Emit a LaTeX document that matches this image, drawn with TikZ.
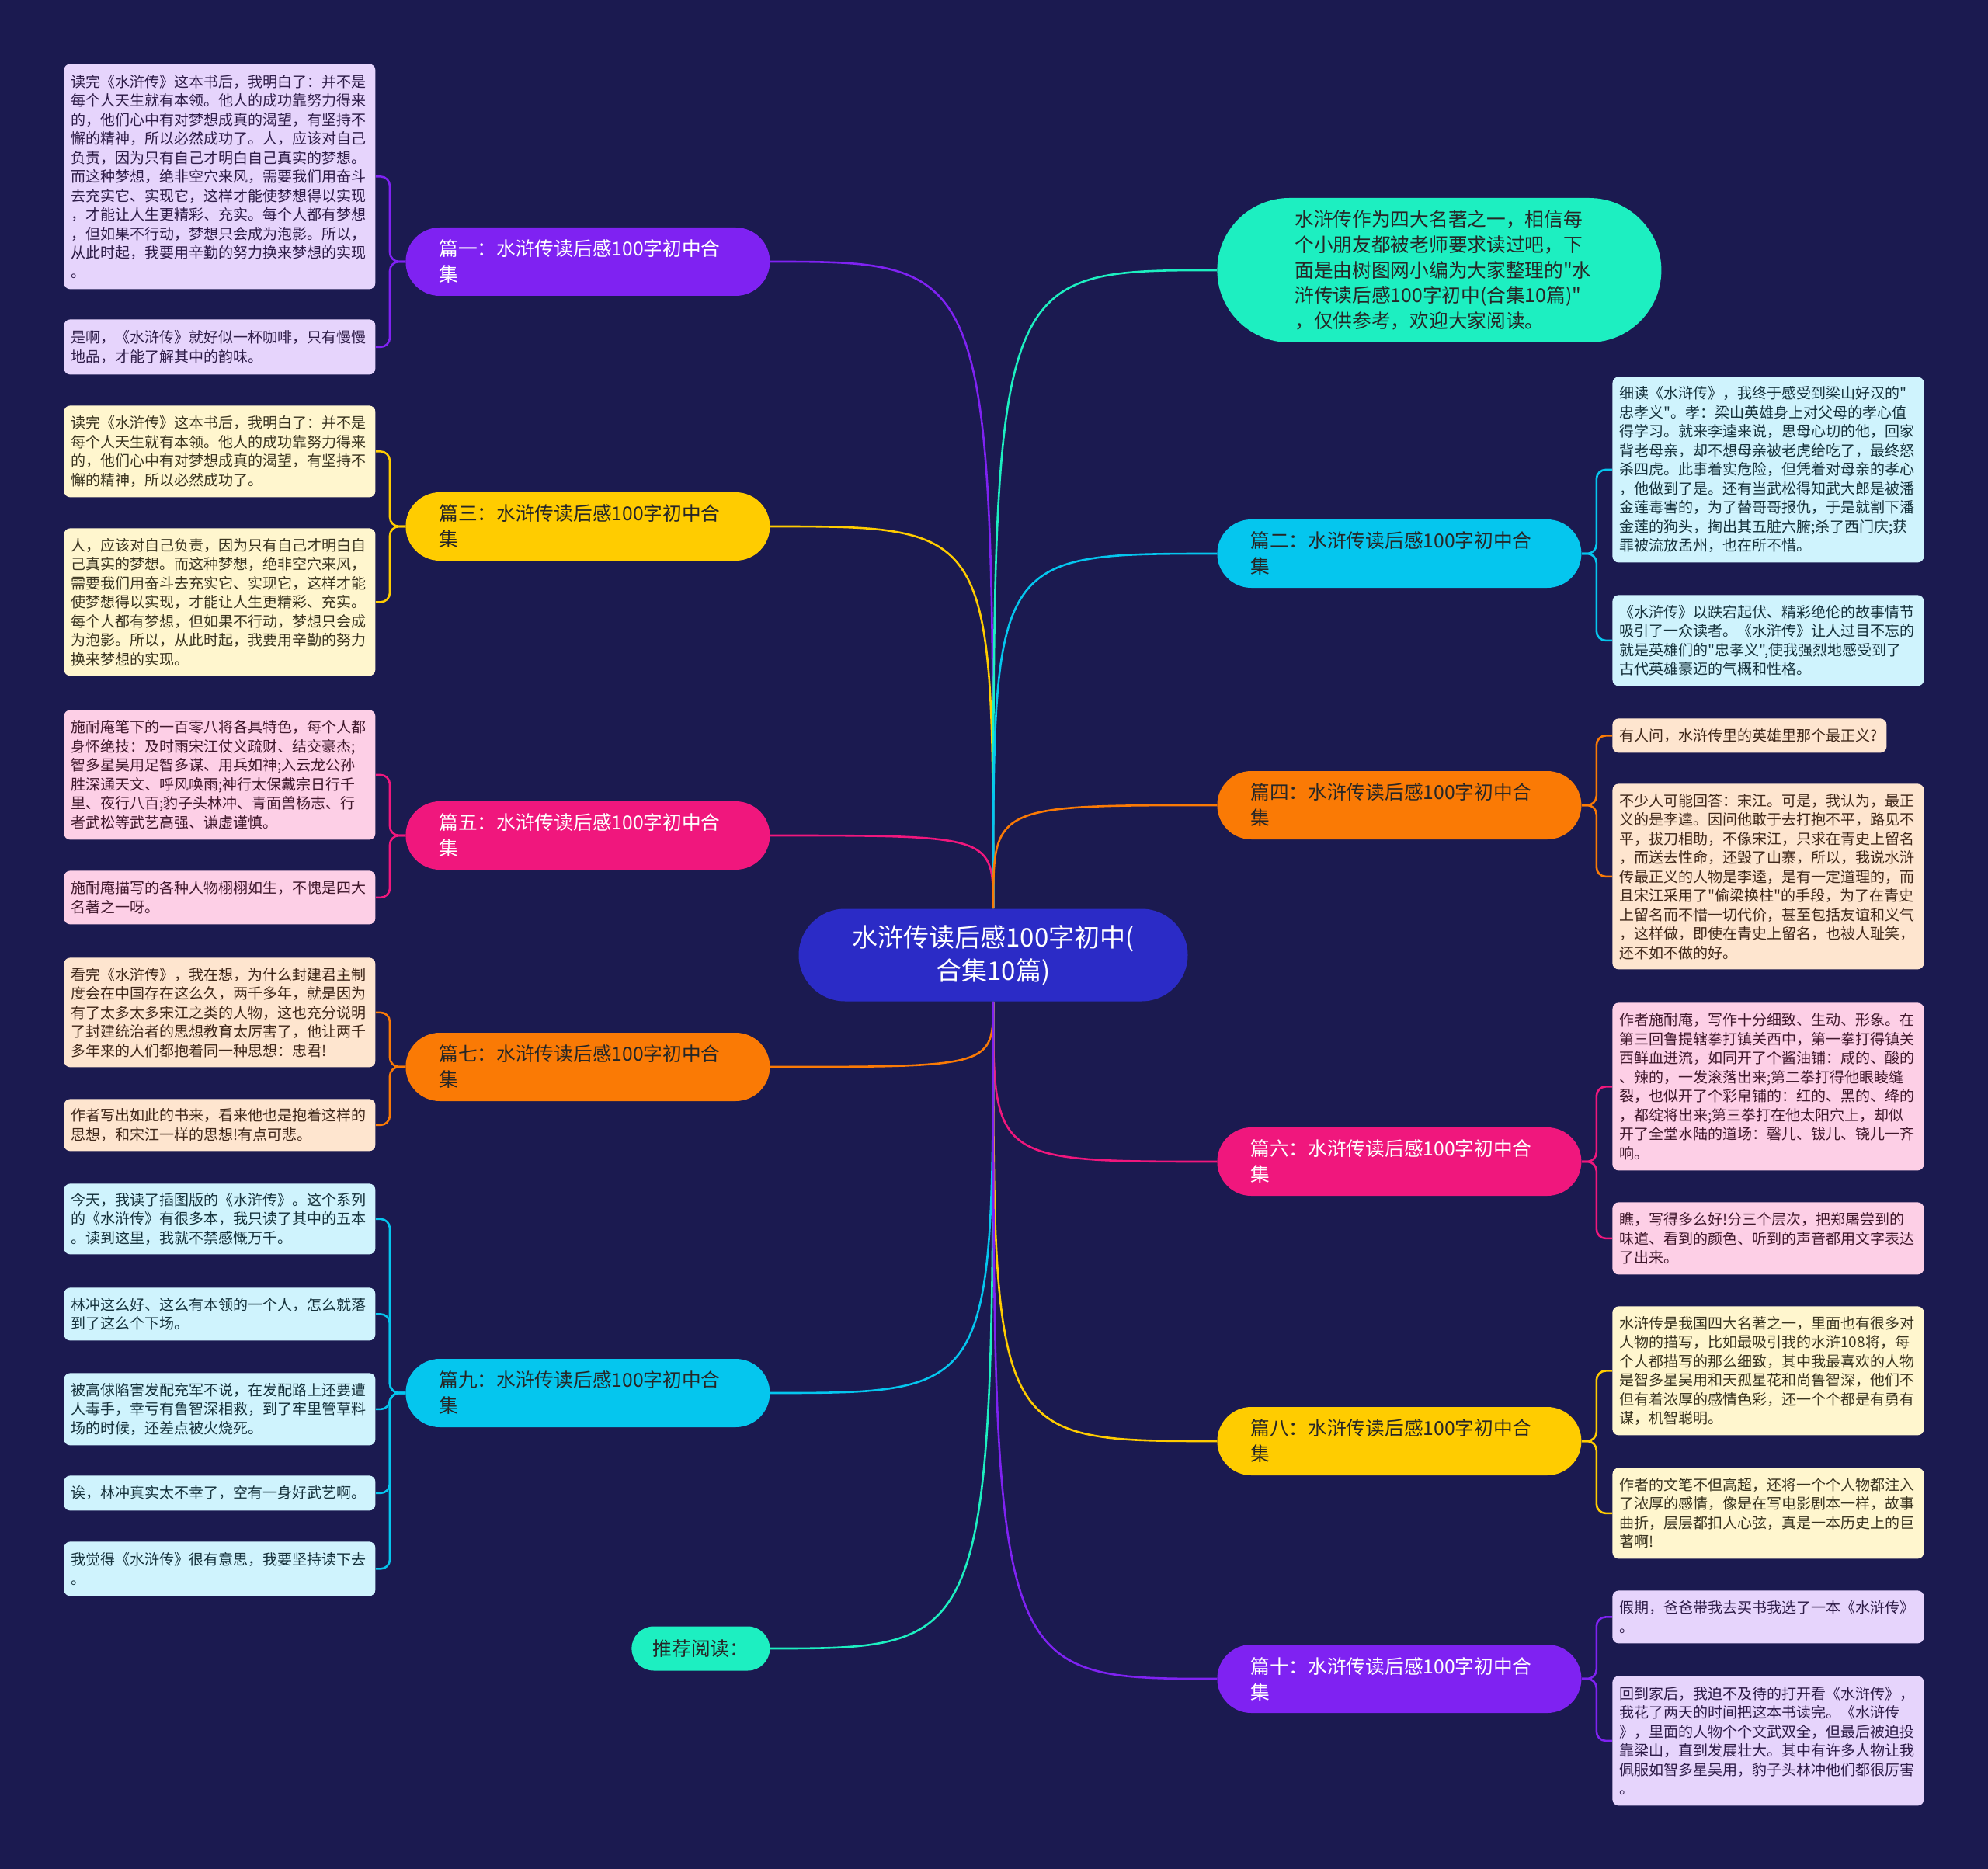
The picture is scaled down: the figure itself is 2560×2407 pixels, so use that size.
\documentclass[tikz,border=0pt]{standalone}
\usepackage{fontspec}
\setmainfont{Noto Sans CJK SC}[Ligatures=TeXOff]
\usetikzlibrary{calc}
\definecolor{bgc}{HTML}{1B1A50}
\definecolor{cPur}{HTML}{7F22F2}
\definecolor{cYel}{HTML}{FFCC00}
\definecolor{cPnk}{HTML}{F0177D}
\definecolor{cOrg}{HTML}{FA7A05}
\definecolor{cCya}{HTML}{05C6EE}
\definecolor{cMnt}{HTML}{1DEFC1}
\definecolor{cCen}{HTML}{2B2BC6}
\definecolor{lPur}{HTML}{E6D4FC}
\definecolor{lYel}{HTML}{FFF6CE}
\definecolor{lPnk}{HTML}{FDCFE6}
\definecolor{lOrg}{HTML}{FEE5CF}
\definecolor{lCya}{HTML}{CFF3FD}
\definecolor{tPur}{HTML}{2E1C48}
\definecolor{tYel}{HTML}{3A3420}
\definecolor{tPnk}{HTML}{40182C}
\definecolor{tOrg}{HTML}{40281A}
\definecolor{tCya}{HTML}{16323C}
\definecolor{tDark}{HTML}{262626}
\pgfdeclarelayer{background}
\pgfdeclarelayer{edges}
\pgfsetlayers{background,edges,main}
\begin{document}
\begin{tikzpicture}[x=0.5pt,y=-0.5pt,
 leaf/.style={rounded corners=4pt, anchor=north west, text width=191.5pt, inner xsep=4.5pt, inner ysep=0pt, align=left, font=\fontsize{9.5pt}{12.25pt}\selectfont},
 branch/.style={rounded corners=22pt, anchor=west, minimum height=44pt, text width=191.5pt, inner xsep=21.5pt, inner ysep=0pt, align=left, font=\fontsize{12.35pt}{16.5pt}\selectfont},
 conn/.style={line width=1.3pt},
 brk/.style={line width=1.3pt, rounded corners=6pt},
]
\useasboundingbox (0,0) rectangle (2560,2407);
\begin{pgfonlayer}{background}
\fill[bgc] (0,0) rectangle (2560,2407);
\end{pgfonlayer}

% center
\node[fill=cCen, text=white, rounded corners=29.75pt, minimum width=250.5pt, minimum height=59.5pt, inner sep=0pt, align=center, font=\fontsize{16.5pt}{21.5pt}\selectfont] (C) at (1279,1230) {水浒传读后感100字初中(\\合集10篇)};

% intro
\node[fill=cMnt, text=tDark, rounded corners=46.5pt, anchor=west, minimum height=93pt, text width=186pt, inner xsep=50pt, inner ysep=0pt, align=left, font=\fontsize{12.35pt}{16.35pt}\selectfont] (I) at (1567,348) {水浒传作为四大名著之一，相信每\\个小朋友都被老师要求读过吧，下\\面是由树图网小编为大家整理的"水\\浒传读后感100字初中(合集10篇)"\\，仅供参考，欢迎大家阅读。};

% left branches
\node[branch, fill=cPur, text=white] (B1) at (522,337) {篇一：水浒传读后感100字初中合\\集};
\node[branch, fill=cYel, text=tDark] (B3) at (522,678) {篇三：水浒传读后感100字初中合\\集};
\node[branch, fill=cPnk, text=white] (B5) at (522,1076) {篇五：水浒传读后感100字初中合\\集};
\node[branch, fill=cOrg, text=tDark] (B7) at (522,1374) {篇七：水浒传读后感100字初中合\\集};
\node[branch, fill=cCya, text=tDark] (B9) at (522,1794) {篇九：水浒传读后感100字初中合\\集};
\node[fill=cMnt, text=tDark, rounded corners=14.25pt, anchor=west, minimum width=89pt, minimum height=28.5pt, inner sep=0pt, font=\fontsize{12.35pt}{16.5pt}\selectfont] (REC) at (813,2123) {推荐阅读：};

% right branches
\node[branch, fill=cCya, text=tDark] (B2) at (1567,713) {篇二：水浒传读后感100字初中合\\集};
\node[branch, fill=cOrg, text=tDark] (B4) at (1567,1037) {篇四：水浒传读后感100字初中合\\集};
\node[branch, fill=cPnk, text=white] (B6) at (1567,1496) {篇六：水浒传读后感100字初中合\\集};
\node[branch, fill=cYel, text=tDark] (B8) at (1567,1856) {篇八：水浒传读后感100字初中合\\集};
\node[branch, fill=cPur, text=white] (B10) at (1567,2162) {篇十：水浒传读后感100字初中合\\集};

% left leaves
\node[leaf, fill=lPur, text=tPur, minimum height=145pt] (L1a) at (82,82) {读完《水浒传》这本书后，我明白了：并不是\\每个人天生就有本领。他人的成功靠努力得来\\的，他们心中有对梦想成真的渴望，有坚持不\\懈的精神，所以必然成功了。人，应该对自己\\负责，因为只有自己才明白自己真实的梦想。\\而这种梦想，绝非空穴来风，需要我们用奋斗\\去充实它、实现它，这样才能使梦想得以实现\\，才能让人生更精彩、充实。每个人都有梦想\\，但如果不行动，梦想只会成为泡影。所以，\\从此时起，我要用辛勤的努力换来梦想的实现\\。};
\node[leaf, fill=lPur, text=tPur, minimum height=35.5pt] (L1b) at (82,411) {是啊，《水浒传》就好似一杯咖啡，只有慢慢\\地品，才能了解其中的韵味。};
\node[leaf, fill=lYel, text=tYel, minimum height=59pt] (L3a) at (82,522) {读完《水浒传》这本书后，我明白了：并不是\\每个人天生就有本领。他人的成功靠努力得来\\的，他们心中有对梦想成真的渴望，有坚持不\\懈的精神，所以必然成功了。};
\node[leaf, fill=lYel, text=tYel, minimum height=95pt] (L3b) at (82,680) {人，应该对自己负责，因为只有自己才明白自\\己真实的梦想。而这种梦想，绝非空穴来风，\\需要我们用奋斗去充实它、实现它，这样才能\\使梦想得以实现，才能让人生更精彩、充实。\\每个人都有梦想，但如果不行动，梦想只会成\\为泡影。所以，从此时起，我要用辛勤的努力\\换来梦想的实现。};
\node[leaf, fill=lPnk, text=tPnk, minimum height=83.5pt] (L5a) at (82,914) {施耐庵笔下的一百零八将各具特色，每个人都\\身怀绝技：及时雨宋江仗义疏财、结交豪杰;\\智多星吴用足智多谋、用兵如神;入云龙公孙\\胜深通天文、呼风唤雨;神行太保戴宗日行千\\里、夜行八百;豹子头林冲、青面兽杨志、行\\者武松等武艺高强、谦虚谨慎。};
\node[leaf, fill=lPnk, text=tPnk, minimum height=34.5pt] (L5b) at (82,1121) {施耐庵描写的各种人物栩栩如生，不愧是四大\\名著之一呀。};
\node[leaf, fill=lOrg, text=tOrg, minimum height=70.5pt] (L7a) at (82,1233) {看完《水浒传》，我在想，为什么封建君主制\\度会在中国存在这么久，两千多年，就是因为\\有了太多太多宋江之类的人物，这也充分说明\\了封建统治者的思想教育太厉害了，他让两千\\多年来的人们都抱着同一种思想：忠君!};
\node[leaf, fill=lOrg, text=tOrg, minimum height=33.5pt] (L7b) at (82,1415) {作者写出如此的书来，看来他也是抱着这样的\\思想，和宋江一样的思想!有点可悲。};
\node[leaf, fill=lCya, text=tCya, minimum height=45.5pt] (L9a) at (82,1524) {今天，我读了插图版的《水浒传》。这个系列\\的《水浒传》有很多本，我只读了其中的五本\\。读到这里，我就不禁感慨万千。};
\node[leaf, fill=lCya, text=tCya, minimum height=34pt] (L9b) at (82,1658) {林冲这么好、这么有本领的一个人，怎么就落\\到了这么个下场。};
\node[leaf, fill=lCya, text=tCya, minimum height=46.5pt] (L9c) at (82,1768) {被高俅陷害发配充军不说，在发配路上还要遭\\人毒手，幸亏有鲁智深相救，到了牢里管草料\\场的时候，还差点被火烧死。};
\node[leaf, fill=lCya, text=tCya, minimum height=22.5pt] (L9d) at (82,1900) {诶，林冲真实太不幸了，空有一身好武艺啊。};
\node[leaf, fill=lCya, text=tCya, minimum height=35pt] (L9e) at (82,1985) {我觉得《水浒传》很有意思，我要坚持读下去\\。};

% right leaves
\node[leaf, fill=lCya, text=tCya, minimum height=119.5pt] (R2a) at (2076,485) {细读《水浒传》，我终于感受到梁山好汉的"\\忠孝义"。孝：梁山英雄身上对父母的孝心值\\得学习。就来李逵来说，思母心切的他，回家\\背老母亲，却不想母亲被老虎给吃了，最终怒\\杀四虎。此事着实危险，但凭着对母亲的孝心\\，他做到了是。还有当武松得知武大郎是被潘\\金莲毒害的，为了替哥哥报仇，于是就割下潘\\金莲的狗头，掏出其五脏六腑;杀了西门庆;获\\罪被流放孟州，也在所不惜。};
\node[leaf, fill=lCya, text=tCya, minimum height=58.5pt] (R2b) at (2076,766) {《水浒传》以跌宕起伏、精彩绝伦的故事情节\\吸引了一众读者。《水浒传》让人过目不忘的\\就是英雄们的"忠孝义",使我强烈地感受到了\\古代英雄豪迈的气概和性格。};
\node[leaf, fill=lOrg, text=tOrg, minimum height=22pt, text width=167.5pt] (R4a) at (2076,925) {有人问，水浒传里的英雄里那个最正义?};
\node[leaf, fill=lOrg, text=tOrg, minimum height=119.5pt] (R4b) at (2076,1009) {不少人可能回答：宋江。可是，我认为，最正\\义的是李逵。因问他敢于去打抱不平，路见不\\平，拔刀相助，不像宋江，只求在青史上留名\\，而送去性命，还毁了山寨，所以，我说水浒\\传最正义的人物是李逵，是有一定道理的，而\\且宋江采用了"偷梁换柱"的手段，为了在青史\\上留名而不惜一切代价，甚至包括友谊和义气\\，这样做，即使在青史上留名，也被人耻笑，\\还不如不做的好。};
\node[leaf, fill=lPnk, text=tPnk, minimum height=108pt] (R6a) at (2076,1291) {作者施耐庵，写作十分细致、生动、形象。在\\第三回鲁提辖拳打镇关西中，第一拳打得镇关\\西鲜血迸流，如同开了个酱油铺：咸的、酸的\\、辣的，一发滚落出来;第二拳打得他眼睖缝\\裂，也似开了个彩帛铺的：红的、黑的、绛的\\，都绽将出来;第三拳打在他太阳穴上，却似\\开了全堂水陆的道场：磬儿、钹儿、铙儿一齐\\响。};
\node[leaf, fill=lPnk, text=tPnk, minimum height=46.5pt] (R6b) at (2076,1548) {瞧，写得多么好!分三个层次，把郑屠尝到的\\味道、看到的颜色、听到的声音都用文字表达\\了出来。};
\node[leaf, fill=lYel, text=tYel, minimum height=83pt] (R8a) at (2076,1682) {水浒传是我国四大名著之一，里面也有很多对\\人物的描写，比如最吸引我的水浒108将，每\\个人都描写的那么细致，其中我最喜欢的人物\\是智多星吴用和天孤星花和尚鲁智深，他们不\\但有着浓厚的感情色彩，还一个个都是有勇有\\谋，机智聪明。};
\node[leaf, fill=lYel, text=tYel, minimum height=58.5pt] (R8b) at (2076,1890) {作者的文笔不但高超，还将一个个人物都注入\\了浓厚的感情，像是在写电影剧本一样，故事\\曲折，层层都扣人心弦，真是一本历史上的巨\\著啊!};
\node[leaf, fill=lPur, text=tPur, minimum height=34pt] (R10a) at (2076,2048) {假期，爸爸带我去买书我选了一本《水浒传》\\。};
\node[leaf, fill=lPur, text=tPur, minimum height=83.5pt] (R10b) at (2076,2158) {回到家后，我迫不及待的打开看《水浒传》，\\我花了两天的时间把这本书读完。《水浒传\\》，里面的人物个个文武双全，但最后被迫投\\靠梁山，直到发展壮大。其中有许多人物让我\\佩服如智多星吴用，豹子头林冲他们都很厉害\\。};

\begin{pgfonlayer}{edges}
% center to branches (upper)
\draw[conn, cPur] (C.north) .. controls (C.north |- B1.east) and (C.north |- B1.east) .. (B1.east);
\draw[conn, cYel] (C.north) .. controls (C.north |- B3.east) and (C.north |- B3.east) .. (B3.east);
\draw[conn, cPnk] (C.north) .. controls (C.north |- B5.east) and (C.north |- B5.east) .. (B5.east);
\draw[conn, cMnt] (C.north) .. controls (C.north |- I.west) and (C.north |- I.west) .. (I.west);
\draw[conn, cCya] (C.north) .. controls (C.north |- B2.west) and (C.north |- B2.west) .. (B2.west);
\draw[conn, cOrg] (C.north) .. controls (C.north |- B4.west) and (C.north |- B4.west) .. (B4.west);
% lower
\draw[conn, cOrg] (C.south) .. controls (C.south |- B7.east) and (C.south |- B7.east) .. (B7.east);
\draw[conn, cCya] (C.south) .. controls (C.south |- B9.east) and (C.south |- B9.east) .. (B9.east);
\draw[conn, cMnt] (C.south) .. controls (C.south |- REC.east) and (C.south |- REC.east) .. (REC.east);
\draw[conn, cPnk] (C.south) .. controls (C.south |- B6.west) and (C.south |- B6.west) .. (B6.west);
\draw[conn, cYel] (C.south) .. controls (C.south |- B8.west) and (C.south |- B8.west) .. (B8.west);
\draw[conn, cPur] (C.south) .. controls (C.south |- B10.west) and (C.south |- B10.west) .. (B10.west);
% left brackets
\draw[brk, cPur] (B1.west) -- ++(-20,0) |- (L1a.east);
\draw[brk, cPur] (B1.west) -- ++(-20,0) |- (L1b.east);
\draw[brk, cYel] (B3.west) -- ++(-20,0) |- (L3a.east);
\draw[brk, cYel] (B3.west) -- ++(-20,0) |- (L3b.east);
\draw[brk, cPnk] (B5.west) -- ++(-20,0) |- (L5a.east);
\draw[brk, cPnk] (B5.west) -- ++(-20,0) |- (L5b.east);
\draw[brk, cOrg] (B7.west) -- ++(-20,0) |- (L7a.east);
\draw[brk, cOrg] (B7.west) -- ++(-20,0) |- (L7b.east);
\draw[brk, cCya] (B9.west) -- ++(-20,0) |- (L9a.east);
\draw[brk, cCya] (B9.west) -- ++(-20,0) |- (L9b.east);
\draw[brk, cCya] (B9.west) -- ++(-20,0) |- (L9c.east);
\draw[brk, cCya] (B9.west) -- ++(-20,0) |- (L9d.east);
\draw[brk, cCya] (B9.west) -- ++(-20,0) |- (L9e.east);
% right brackets
\draw[brk, cCya] (B2.east) -- ++(19,0) |- (R2a.west);
\draw[brk, cCya] (B2.east) -- ++(19,0) |- (R2b.west);
\draw[brk, cOrg] (B4.east) -- ++(19,0) |- (R4a.west);
\draw[brk, cOrg] (B4.east) -- ++(19,0) |- (R4b.west);
\draw[brk, cPnk] (B6.east) -- ++(19,0) |- (R6a.west);
\draw[brk, cPnk] (B6.east) -- ++(19,0) |- (R6b.west);
\draw[brk, cYel] (B8.east) -- ++(19,0) |- (R8a.west);
\draw[brk, cYel] (B8.east) -- ++(19,0) |- (R8b.west);
\draw[brk, cPur] (B10.east) -- ++(19,0) |- (R10a.west);
\draw[brk, cPur] (B10.east) -- ++(19,0) |- (R10b.west);
\end{pgfonlayer}
\end{tikzpicture}
\end{document}
